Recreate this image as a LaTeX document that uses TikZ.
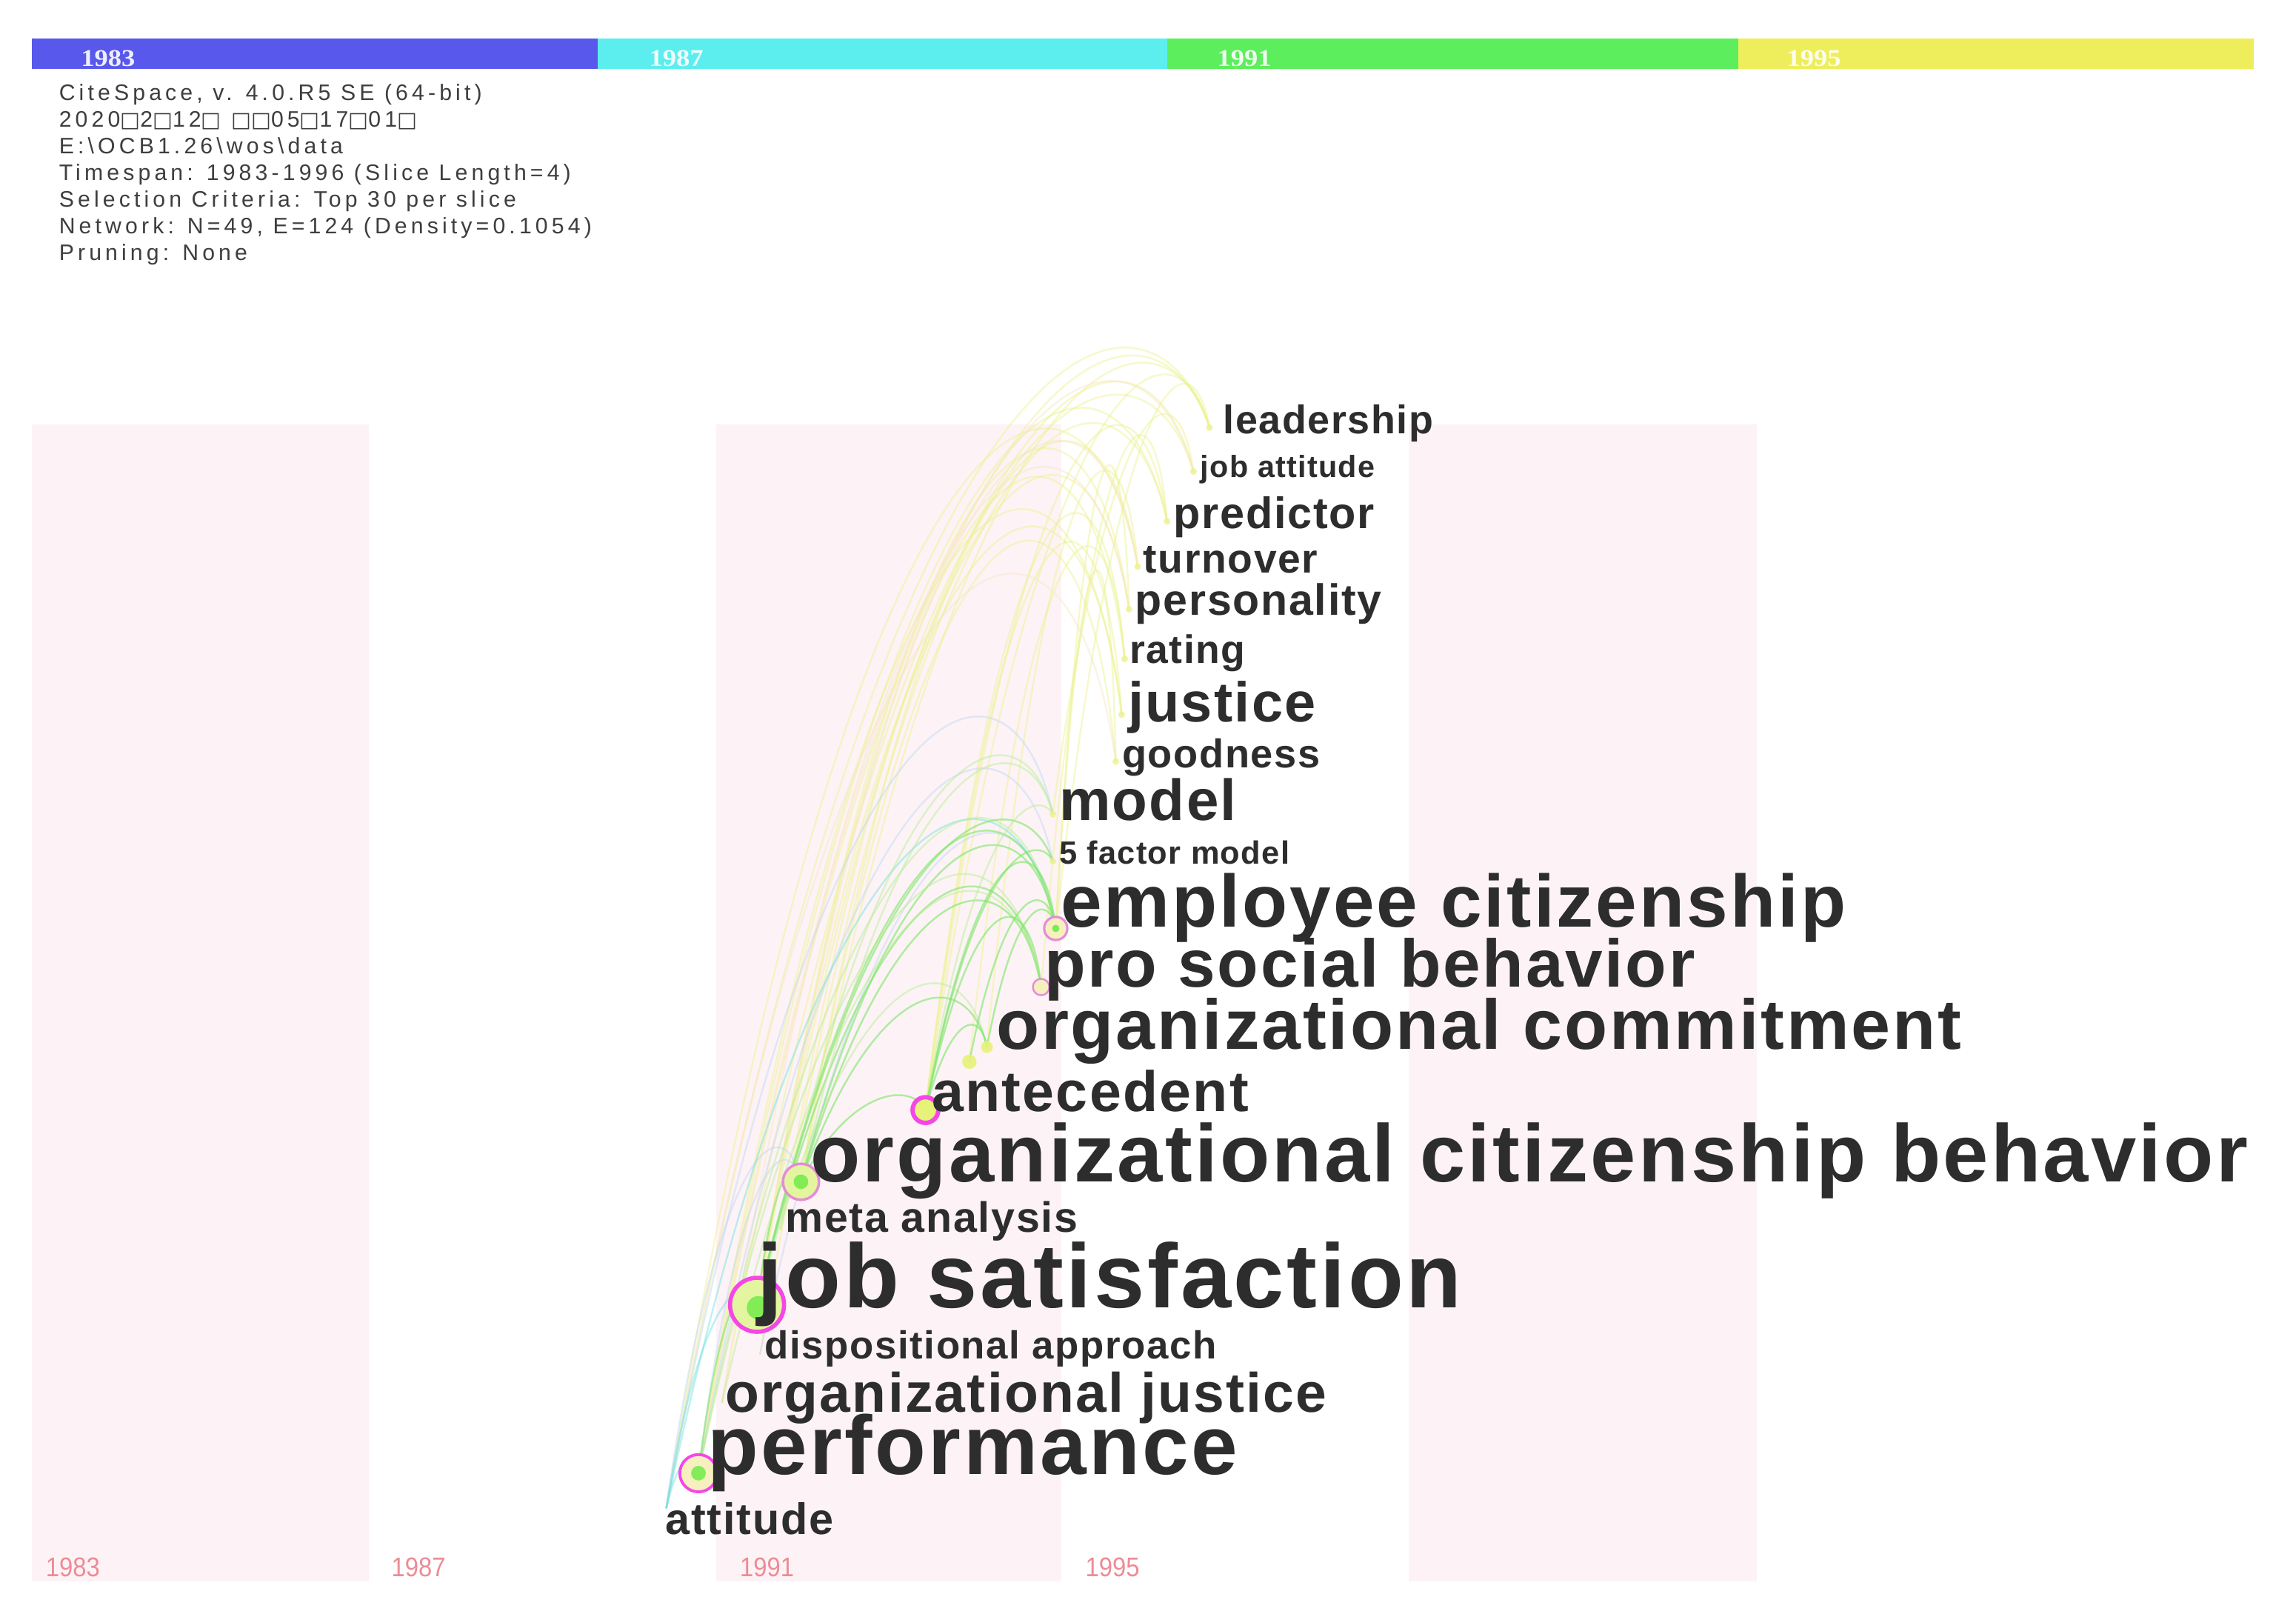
\documentclass[tikz,border=0pt]{standalone}
\usepackage{fontspec}
\setmainfont{Liberation Sans}
\newfontfamily\wordfont{Liberation Sans}[LetterSpace=3]
\newfontfamily\infofont{Liberation Sans}[LetterSpace=17]
\newfontfamily\yearfont{Liberation Serif}
\newfontfamily\symfont{DejaVu Sans}
\usetikzlibrary{calc}
\definecolor{barblue}{RGB}{88,88,236}
\definecolor{barcyan}{RGB}{92,238,238}
\definecolor{bargreen}{RGB}{92,238,92}
\definecolor{baryellow}{RGB}{238,238,92}
\definecolor{colpink}{RGB}{253,243,246}
\definecolor{yearpink}{RGB}{236,140,150}
\definecolor{infogray}{RGB}{62,62,62}
\definecolor{wordgray}{RGB}{45,45,45}
\definecolor{lkyellow}{RGB}{236,242,140}
\definecolor{lkgreen}{RGB}{125,230,105}
\definecolor{lklgreen}{RGB}{182,238,145}
\definecolor{lkcyan}{RGB}{110,225,225}
\definecolor{lkblue}{RGB}{190,215,245}
\definecolor{lkpeach}{RGB}{250,228,200}
\definecolor{ringmag}{RGB}{245,70,230}
\definecolor{ringpale}{RGB}{228,140,215}
\definecolor{fillyg}{RGB}{228,245,160}
\definecolor{fillyel}{RGB}{230,242,120}
\definecolor{fillcream}{RGB}{245,240,190}
\definecolor{ctrgreen}{RGB}{120,236,80}
\tikzset{
  kw/.style={anchor=base west, inner sep=0pt, text=wordgray},
  info/.style={anchor=base west, inner sep=0pt, text=infogray, font=\infofont\fontsize{8.7pt}{10pt}\selectfont},
  baryear/.style={anchor=base west, inner sep=0pt, text=white, opacity=0.9, font=\yearfont\bfseries\fontsize{9.3pt}{10pt}\selectfont},
  botyear/.style={anchor=base west, inner sep=0pt, text=yearpink, font=\fontsize{10.5pt}{11pt}\selectfont},
  lk/.style={line width=0.7pt, opacity=0.45},
  lkY/.style={draw=lkyellow},
  lkG/.style={draw=lkgreen, opacity=0.6},
  lkL/.style={draw=lklgreen},
  lkC/.style={draw=lkcyan},
  lkB/.style={draw=lkblue},
  lkP/.style={draw=lkpeach},
  ring/.style={circle, inner sep=0pt},
  tinydot/.style={circle, inner sep=0pt, minimum size=2.6pt, fill=lkyellow, opacity=0.8}
}
% link from #2 to #3 arching up to height #4; #1 = style
\newcommand\lnk[4][]{\draw[lk,#1] let \p1=(#2),\p2=(#3),\p3=(0,#4) in (#2) .. controls ({\x1+0.42*(\x2-\x1)},\y3) and ({\x2-0.1*(\x2-\x1)},\y3) .. (#3);}
\newcommand\nb{{\symfont\fontsize{8.2pt}{10pt}\selectfont □}}
\begin{document}
\begin{tikzpicture}[x=0.02cm,y=-0.02cm]
\useasboundingbox (0,0) rectangle (1568,1102);
\fill[white] (0,0) rectangle (1568,1102);
% time columns
\fill[colpink] (22,290) rectangle (252,1080);
\fill[colpink] (489,290) rectangle (725,1080);
\fill[colpink] (962,290) rectangle (1200,1080);
% top year bar
\fill[barblue] (22,26.5) rectangle (408,47);
\fill[barcyan] (408,26.5) rectangle (797,47);
\fill[bargreen] (797,26.5) rectangle (1187,47);
\fill[baryellow] (1187,26.5) rectangle (1539,47);
\node[baryear] (by83) at (55,45.5) {\scalebox{1.13}[1]{1983}};
\node[baryear] (by87) at (443,45.5) {\scalebox{1.13}[1]{1987}};
\node[baryear] (by91) at (831,45.5) {\scalebox{1.13}[1]{1991}};
\node[baryear] (by95) at (1220,45.5) {\scalebox{1.13}[1]{1995}};
% info block
\node[info] (i1) at (40,68.3) {CiteSpace, v. 4.0.R5 SE (64-bit)};
\node[info] (i2) at (40,86.6) {2020\nb2\nb12\nb{} \nb\nb05\nb17\nb01\nb};
\node[info] (i3) at (40,104.8) {E:\textbackslash OCB1.26\textbackslash wos\textbackslash data};
\node[info] (i4) at (40,123.1) {Timespan: 1983-1996 (Slice Length=4)};
\node[info] (i5) at (40,141.4) {Selection Criteria: Top 30 per slice};
\node[info] (i6) at (40,159.6) {Network: N=49, E=124 (Density=0.1054)};
\node[info] (i7) at (40,177.9) {Pruning: None};
% bottom year labels
\node[botyear] (y83) at (31,1076.5) {\scalebox{0.9}[1]{1983}};
\node[botyear] (y87) at (267,1076.5) {\scalebox{0.9}[1]{1987}};
\node[botyear] (y91) at (505,1076.5) {\scalebox{0.9}[1]{1991}};
\node[botyear] (y95) at (741,1076.5) {\scalebox{0.9}[1]{1995}};
% node positions
\coordinate (n_att) at (455,1030);
\coordinate (n_perf) at (477,1006);
\coordinate (n_ojus) at (493,958);
\coordinate (n_disp) at (519,925);
\coordinate (n_js) at (517,891);
\coordinate (n_meta) at (533,840);
\coordinate (n_ocb) at (547,807);
\coordinate (n_ant) at (632,758);
\coordinate (n_oc0) at (662,725);
\coordinate (n_oc) at (674,715);
\coordinate (n_psb) at (711,674);
\coordinate (n_ec) at (721,634);
\coordinate (n_5fm) at (719,588);
\coordinate (n_model) at (719,556);
\coordinate (n_good) at (762,520);
\coordinate (n_just) at (766,488);
\coordinate (n_rat) at (768,450);
\coordinate (n_pers) at (771,416);
\coordinate (n_turn) at (777,387);
\coordinate (n_pred) at (797,356);
\coordinate (n_jatt) at (815,322);
\coordinate (n_lead) at (826,292);
% links
\lnk[lkY]{n_att}{n_lead}{175}
\lnk[lkY]{n_perf}{n_lead}{185}
\lnk[lkY]{n_js}{n_jatt}{200}
\lnk[lkY]{n_perf}{n_pred}{205}
\lnk[lkY]{n_att}{n_turn}{210}
\lnk[lkY]{n_js}{n_pers}{225}
\lnk[lkY]{n_ocb}{n_lead}{200}
\lnk[lkY]{n_ojus}{n_jatt}{212}
\lnk[lkY]{n_disp}{n_pred}{225}
\lnk[lkY]{n_js}{n_rat}{240}
\lnk[lkY]{n_perf}{n_just}{250}
\lnk[lkY]{n_ocb}{n_turn}{235}
\lnk[lkY]{n_meta}{n_pers}{255}
\lnk[lkY]{n_ant}{n_lead}{215}
\lnk[lkY]{n_ant}{n_pred}{235}
\lnk[lkY]{n_ocb}{n_good}{285}
\lnk[lkY]{n_js}{n_just}{275}
\lnk[lkY]{n_ant}{n_rat}{285}
\lnk[lkY]{n_ec}{n_lead}{230}
\lnk[lkY]{n_ec}{n_pers}{260}
\lnk[lkY]{n_model}{n_jatt}{250}
\lnk[lkY]{n_oc}{n_turn}{270}
\lnk[lkY]{n_psb}{n_pred}{250}
\lnk[lkY]{n_ant}{n_just}{300}
\lnk[lkY]{n_ec}{n_good}{330}
\lnk[lkY]{n_oc0}{n_rat}{320}
\lnk[lkP]{n_att}{n_good}{300}
\lnk[lkP]{n_perf}{n_jatt}{195}
\lnk[lkP]{n_js}{n_turn}{230}
\lnk[lkP]{n_ojus}{n_pers}{240}
\lnk[lkB]{n_att}{n_model}{430}
\lnk[lkB]{n_perf}{n_5fm}{470}
\lnk[lkB]{n_att}{n_ocb}{760}
\lnk[lkB]{n_perf}{n_ocb}{775}
\lnk[lkB]{n_disp}{n_ec}{520}
\lnk[lkC]{n_att}{n_js}{870}
\lnk[lkC]{n_att}{n_perf}{990}
\lnk[lkC]{n_att}{n_ec}{500}
\lnk[lkG]{n_js}{n_ec}{520}
\lnk[lkG]{n_ocb}{n_ec}{540}
\lnk[lkL]{n_perf}{n_ec}{500}
\lnk[lkG]{n_ant}{n_ec}{560}
\lnk[lkG]{n_js}{n_psb}{560}
\lnk[lkG]{n_ocb}{n_psb}{580}
\lnk[lkL]{n_meta}{n_model}{480}
\lnk[lkG]{n_js}{n_5fm}{530}
\lnk[lkG]{n_ant}{n_5fm}{570}
\lnk[lkL]{n_ocb}{n_model}{490}
\lnk[lkL]{n_perf}{n_psb}{540}
\lnk[lkG]{n_ant}{n_oc}{690}
\lnk[lkG]{n_ocb}{n_ant}{740}
\lnk[lkG]{n_js}{n_ocb}{790}
\lnk[lkG]{n_perf}{n_js}{870}
\lnk[lkL]{n_ojus}{n_psb}{560}
\lnk[lkL]{n_js}{n_oc}{640}
\lnk[lkG]{n_ocb}{n_oc}{660}
\lnk[lkG]{n_ant}{n_psb}{600}
\lnk[lkG]{n_oc0}{n_ec}{600}
\lnk[lkG]{n_oc}{n_ec}{610}
\lnk[lkL]{n_ant}{n_model}{540}
% node circles
\node[ring, minimum size=21pt, fill=fillyg, draw=ringmag, line width=1.6pt] (r_js) at (n_js) {};
\fill[ctrgreen, opacity=0.9] ($(n_js)+(1,2)$) circle (8);
\node[ring, minimum size=14.5pt, fill=fillcream, draw=ringmag, line width=1.1pt] (r_perf) at (n_perf) {};
\fill[ctrgreen, opacity=0.9] (n_perf) circle (5);
\node[ring, minimum size=14pt, fill=fillyg, draw=ringpale, line width=1pt] (r_ocb) at (n_ocb) {};
\fill[ctrgreen, opacity=0.9] (n_ocb) circle (5);
\node[ring, minimum size=10pt, fill=fillyel, draw=ringmag, line width=1.7pt] (r_ant) at (n_ant) {};
\node[ring, minimum size=9pt, fill=fillcream, draw=ringpale, line width=0.9pt] (r_ec) at (n_ec) {};
\fill[ctrgreen] (n_ec) circle (2.5);
\node[ring, minimum size=6.4pt, fill=fillcream, draw=ringpale, line width=0.7pt] (r_psb) at (n_psb) {};
\node[ring, minimum size=5.6pt, fill=fillyel, opacity=0.9] (r_oc0) at (n_oc0) {};
\node[ring, minimum size=4.6pt, fill=fillyel, opacity=0.9] (r_oc) at (n_oc) {};
\foreach \n in {n_5fm,n_model,n_good,n_just,n_rat,n_pers,n_turn,n_pred,n_jatt,n_lead}
  \node[tinydot] (d\n) at (\n) {};
% keyword labels
\node[kw, font=\wordfont\bfseries\fontsize{15.5pt}{16pt}\selectfont] (w_lead) at (835,296) {leadership};
\node[kw, font=\wordfont\bfseries\fontsize{11.9pt}{12pt}\selectfont] (w_jatt) at (819.5,326) {job attitude};
\node[kw, font=\wordfont\bfseries\fontsize{17.1pt}{18pt}\selectfont] (w_pred) at (801,361) {predictor};
\node[kw, font=\wordfont\bfseries\fontsize{15.9pt}{16pt}\selectfont] (w_turn) at (780.5,391) {turnover};
\node[kw, font=\wordfont\bfseries\fontsize{17pt}{18pt}\selectfont] (w_pers) at (775,420) {personality};
\node[kw, font=\wordfont\bfseries\fontsize{15.4pt}{16pt}\selectfont] (w_rat) at (771,453) {rating};
\node[kw, font=\wordfont\bfseries\fontsize{21.8pt}{22pt}\selectfont] (w_just) at (770,493) {justice};
\node[kw, font=\wordfont\bfseries\fontsize{15.6pt}{16pt}\selectfont] (w_good) at (766,524.5) {goodness};
\node[kw, font=\wordfont\bfseries\fontsize{22.5pt}{23pt}\selectfont] (w_model) at (723,560) {model};
\node[kw, font=\wordfont\bfseries\fontsize{12.5pt}{13pt}\selectfont] (w_5fm) at (723,590) {5 factor model};
\node[kw, font=\wordfont\bfseries\fontsize{28.8pt}{29pt}\selectfont] (w_ec) at (724,633) {employee citizenship};
\node[kw, font=\wordfont\bfseries\fontsize{26.2pt}{27pt}\selectfont] (w_psb) at (713,674) {pro social behavior};
\node[kw, font=\wordfont\bfseries\fontsize{27.4pt}{28pt}\selectfont] (w_oc) at (680,716.5) {organizational commitment};
\node[kw, font=\wordfont\bfseries\fontsize{22.2pt}{23pt}\selectfont] (w_ant) at (636,759) {antecedent};
\node[kw, font=\wordfont\bfseries\fontsize{31.7pt}{32pt}\selectfont] (w_ocb) at (553,807) {organizational citizenship behavior};
\node[kw, font=\wordfont\bfseries\fontsize{16.5pt}{17pt}\selectfont] (w_meta) at (536,841.5) {meta analysis};
\node[kw, font=\wordfont\bfseries\fontsize{35.3pt}{36pt}\selectfont] (w_js) at (517,893) {job satisfaction};
\node[kw, font=\wordfont\bfseries\fontsize{15.2pt}{16pt}\selectfont] (w_disp) at (522,928) {dispositional approach};
\node[kw, font=\wordfont\bfseries\fontsize{21.6pt}{22pt}\selectfont] (w_ojus) at (495,964.5) {organizational justice};
\node[kw, font=\wordfont\bfseries\fontsize{32.4pt}{33pt}\selectfont] (w_perf) at (483,1007) {performance};
\node[kw, font=\wordfont\bfseries\fontsize{17.1pt}{18pt}\selectfont] (w_att) at (454,1048) {attitude};
\end{tikzpicture}
\end{document}
